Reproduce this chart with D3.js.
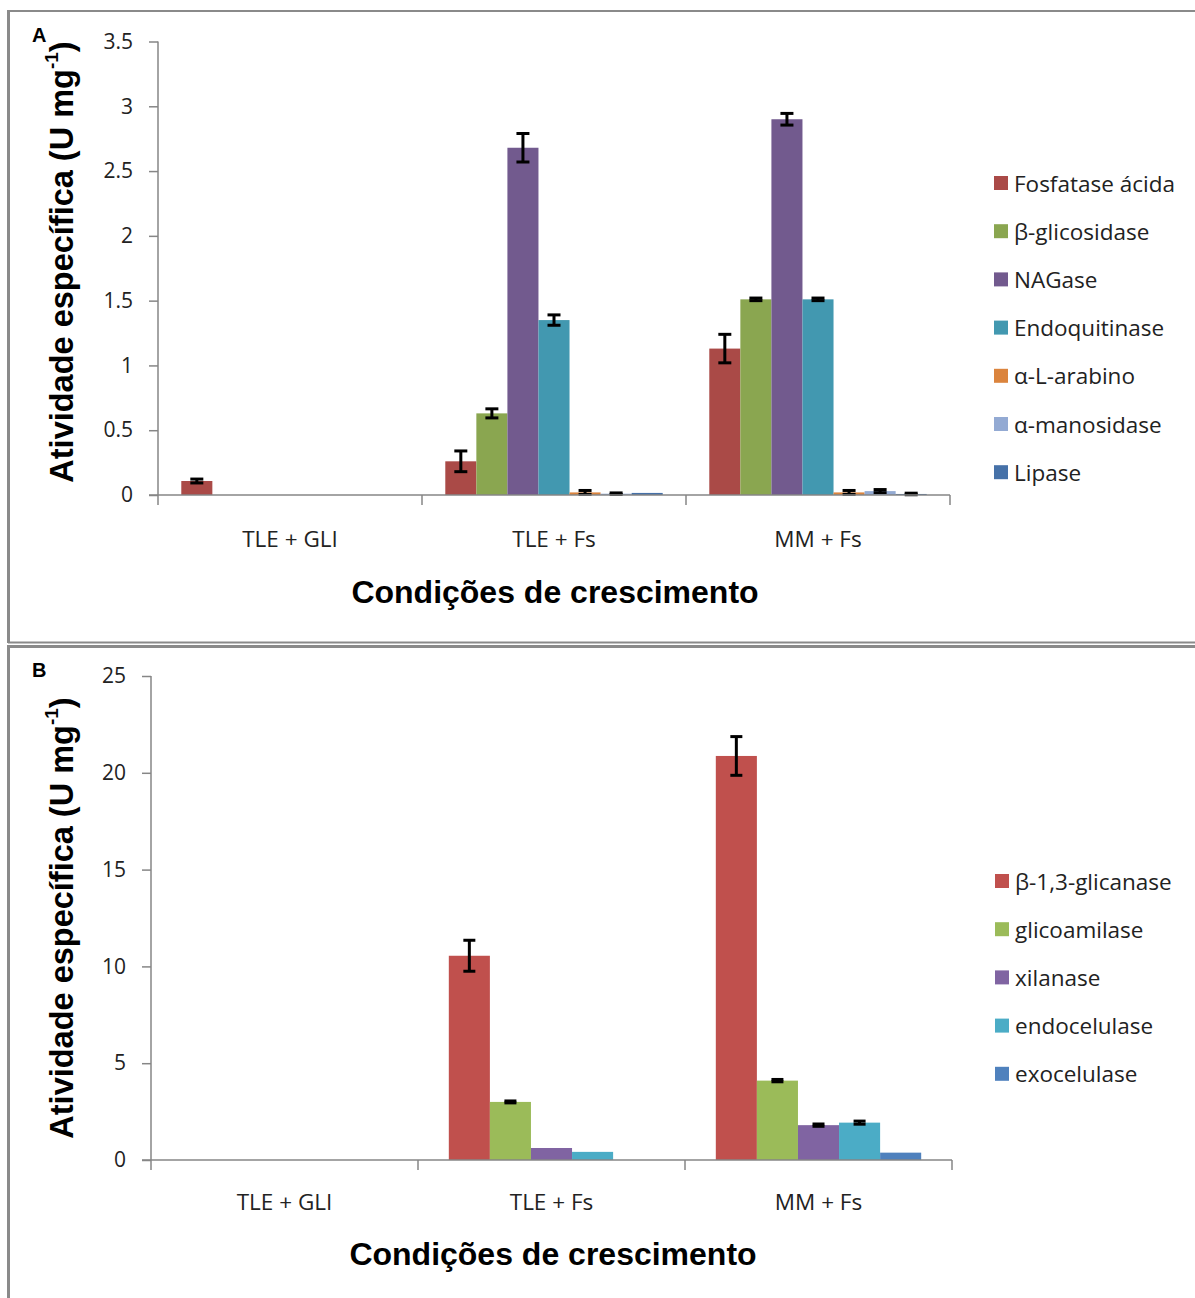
<!DOCTYPE html>
<html>
<head>
<meta charset="utf-8">
<script src="https://cdn.jsdelivr.net/npm/d3@7"></script>
<style>
  html, body { margin: 0; padding: 0; background: #fff; }
  svg { display: block; }
</style>
</head>
<body>
<svg id="chart" width="1195" height="1298"></svg>
<script>
// ---------------- DATA ----------------
const categories = ["TLE + GLI", "TLE + Fs", "MM + Fs"];

// Panel A
const seriesA = ["Fosfatase ácida", "β-glicosidase", "NAGase", "Endoquitinase", "α-L-arabino", "α-manosidase", "Lipase"];
const fosfataseVals = [0.108, 0.26, 1.13];
const fosfataseErr  = [0.015, 0.08, 0.11];
const betaGlicVals  = [0, 0.63, 1.51];
const betaGlicErr   = [0, 0.035, 0.01];
const nagaseVals    = [0, 2.68, 2.90];
const nagaseErr     = [0, 0.11, 0.045];
const endoquitVals  = [0, 1.35, 1.51];
const endoquitErr   = [0, 0.04, 0.01];
const arabinoVals   = [0, 0.02, 0.02];
const arabinoErr    = [0, 0.015, 0.015];
const manosVals     = [0, 0.01, 0.03];
const manosErr      = [0, 0.006, 0.012];
const lipaseVals    = [0, 0.016, 0.008];
const lipaseErr     = [0, 0, 0.006];
const ticksA = [0, 0.5, 1, 1.5, 2, 2.5, 3, 3.5];
const tickLabelsA = ["0", "0.5", "1", "1.5", "2", "2.5", "3", "3.5"];

// Panel B
const seriesB = ["β-1,3-glicanase", "glicoamilase", "xilanase", "endocelulase", "exocelulase"];
const glicanaseVals = [0, 10.55, 20.87];
const glicanaseErr  = [0, 0.8, 1.0];
const glicoamVals   = [0, 3.0, 4.1];
const glicoamErr    = [0, 0.05, 0.06];
const xilanaseVals  = [0, 0.62, 1.8];
const xilanaseErr   = [0, 0, 0.06];
const endocelVals   = [0, 0.42, 1.93];
const endocelErr    = [0, 0, 0.08];
const exocelVals    = [0, 0, 0.38];
const exocelErr     = [0, 0, 0];
const ticksB = [0, 5, 10, 15, 20, 25];
const tickLabelsB = ["0", "5", "10", "15", "20", "25"];

const yTitle = "Atividade específica (U mg";
const xTitle = "Condições de crescimento";

// ---------------- STYLES ----------------
const colorsA = ["#AA4A47", "#8AA650", "#725A8E", "#4298B0", "#DB843D", "#93AAD3", "#4671A8"];
const colorsB = ["#C0504D", "#9BBB59", "#8064A2", "#4BACC6", "#4F81BD"];
const axisColor = "#868686";
const sansFont = "'Open Sans', 'DejaVu Sans', sans-serif";
const boldFont = "'Liberation Sans', Arial, sans-serif";

const svg = d3.select("#chart");

// Frames
const frame = svg.append("g").attr("stroke", "#8a8a8a").attr("fill", "none");
frame.append("line").attr("x1", 8).attr("x2", 1195).attr("y1", 11).attr("y2", 11).attr("stroke-width", 2);
frame.append("line").attr("x1", 8.5).attr("x2", 8.5).attr("y1", 10).attr("y2", 643).attr("stroke-width", 3);
frame.append("line").attr("x1", 8).attr("x2", 1195).attr("y1", 642.5).attr("y2", 642.5).attr("stroke-width", 2);
frame.append("line").attr("x1", 8).attr("x2", 1195).attr("y1", 646.5).attr("y2", 646.5).attr("stroke-width", 3);
frame.append("line").attr("x1", 8.5).attr("x2", 8.5).attr("y1", 645).attr("y2", 1298).attr("stroke-width", 3);

function drawPanel(cfg) {
  const g = svg.append("g");
  const y = d3.scaleLinear().domain([0, cfg.yMax]).range([cfg.y0, cfg.y1]);
  const x0 = d3.scaleBand().domain(categories).range([cfg.xL, cfg.xR]).padding(0);
  const x1 = d3.scaleBand().domain(cfg.series).range([0, x0.bandwidth()]).paddingInner(0).paddingOuter(0.75);

  // bars
  cfg.series.forEach((s, si) => {
    const vals = cfg.values[si];
    categories.forEach((c, ci) => {
      const v = vals[ci];
      if (v <= 0) return;
      const bx = x0(c) + x1(s);
      g.append("rect")
        .attr("x", bx).attr("width", x1.bandwidth())
        .attr("y", y(v)).attr("height", y(0) - y(v))
        .attr("fill", cfg.colors[si]);
    });
  });
  // error bars
  cfg.series.forEach((s, si) => {
    const vals = cfg.values[si];
    const errs = cfg.errors[si];
    categories.forEach((c, ci) => {
      const v = vals[ci], e = errs[ci];
      if (v <= 0 || e <= 0) return;
      const cx = x0(c) + x1(s) + x1.bandwidth() / 2;
      const hw = cfg.capW / 2;
      const eg = g.append("g").attr("stroke", "#000").attr("stroke-width", 3);
      eg.append("line").attr("x1", cx).attr("x2", cx).attr("y1", y(v + e)).attr("y2", y(v - e));
      eg.append("line").attr("x1", cx - hw).attr("x2", cx + hw).attr("y1", y(v + e)).attr("y2", y(v + e));
      eg.append("line").attr("x1", cx - hw).attr("x2", cx + hw).attr("y1", y(v - e)).attr("y2", y(v - e));
    });
  });

  // y axis
  const yAxis = d3.axisLeft(y).tickValues(cfg.ticks).tickFormat((d, i) => cfg.tickLabels[i])
    .tickSize(9).tickPadding(cfg.tickPad);
  const ya = g.append("g").attr("transform", `translate(${cfg.xL},0)`).call(yAxis);
  ya.select(".domain").attr("stroke", axisColor).attr("stroke-width", 1.5).attr("d", `M0,${cfg.y0}V${cfg.y1}`);
  ya.selectAll(".tick line").attr("stroke", axisColor).attr("stroke-width", 1.5);
  ya.selectAll(".tick text").attr("font-family", sansFont).attr("font-size", 21).attr("fill", "#222");

  // x axis
  const xa = g.append("g").attr("transform", `translate(0,${cfg.y0})`);
  xa.append("line").attr("x1", cfg.xL - 9).attr("x2", cfg.xR).attr("y1", 0).attr("y2", 0)
    .attr("stroke", axisColor).attr("stroke-width", 1.5);
  const bounds = categories.map(c => x0(c)).concat([cfg.xR]);
  xa.selectAll(".xt").data(bounds).join("line")
    .attr("x1", d => d).attr("x2", d => d).attr("y1", 0).attr("y2", 10)
    .attr("stroke", axisColor).attr("stroke-width", 1.5);
  xa.selectAll(".xl").data(categories).join("text")
    .attr("x", d => x0(d) + x0.bandwidth() / 2).attr("y", cfg.catLabelY - cfg.y0)
    .attr("text-anchor", "middle").attr("dominant-baseline", "central")
    .attr("font-family", sansFont).attr("font-size", 22.5).attr("fill", "#222")
    .text(d => d);

  // axis titles
  g.append("text")
    .attr("x", cfg.xTitleX).attr("y", cfg.xTitleY)
    .attr("text-anchor", "middle").attr("dominant-baseline", "central")
    .attr("font-family", boldFont).attr("font-weight", "bold").attr("font-size", 32).attr("fill", "#000")
    .text(xTitle);
  const yt = g.append("text")
    .attr("transform", `translate(${cfg.yTitleX},${cfg.yTitleY}) rotate(-90)`)
    .attr("text-anchor", "middle").attr("dominant-baseline", "central")
    .attr("font-family", boldFont).attr("font-weight", "bold").attr("font-size", 32.5).attr("fill", "#000");
  yt.append("tspan").text(yTitle);
  yt.append("tspan").attr("font-size", 19).attr("dy", -11).text("-1");
  yt.append("tspan").attr("dy", 11).text(")");

  // panel letter
  g.append("text").attr("x", cfg.letterX).attr("y", cfg.letterY)
    .attr("font-family", boldFont).attr("font-weight", "bold").attr("font-size", 20)
    .attr("dominant-baseline", "central").text(cfg.letter);

  // legend
  const lg = g.append("g");
  cfg.series.forEach((s, i) => {
    const ly = cfg.legY0 + i * cfg.legStep;
    lg.append("rect").attr("x", cfg.legX).attr("y", ly - 7).attr("width", 14).attr("height", 14)
      .attr("fill", cfg.colors[i]);
    lg.append("text").attr("x", cfg.legX + 20).attr("y", ly)
      .attr("dominant-baseline", "central")
      .attr("font-family", sansFont).attr("font-size", 22.5).attr("fill", "#222")
      .text(s);
  });
}

drawPanel({
  series: seriesA, colors: colorsA,
  values: [fosfataseVals, betaGlicVals, nagaseVals, endoquitVals, arabinoVals, manosVals, lipaseVals],
  errors: [fosfataseErr, betaGlicErr, nagaseErr, endoquitErr, arabinoErr, manosErr, lipaseErr],
  yMax: 3.5, ticks: ticksA, tickLabels: tickLabelsA, tickPad: 16,
  y0: 495, y1: 41.5, xL: 158, xR: 950, capW: 13,
  catLabelY: 538, xTitleX: 555, xTitleY: 592, yTitleX: 62, yTitleY: 262,
  letter: "A", letterX: 32, letterY: 35,
  legX: 994, legY0: 183, legStep: 48.2
});

drawPanel({
  series: seriesB, colors: colorsB,
  values: [glicanaseVals, glicoamVals, xilanaseVals, endocelVals, exocelVals],
  errors: [glicanaseErr, glicoamErr, xilanaseErr, endocelErr, exocelErr],
  yMax: 25, ticks: ticksB, tickLabels: tickLabelsB, tickPad: 16,
  y0: 1160, y1: 676, xL: 151, xR: 952, capW: 12,
  catLabelY: 1201, xTitleX: 553, xTitleY: 1254, yTitleX: 62, yTitleY: 918,
  letter: "B", letterX: 32, letterY: 670,
  legX: 995, legY0: 881, legStep: 48.2
});
</script>
</body>
</html>
